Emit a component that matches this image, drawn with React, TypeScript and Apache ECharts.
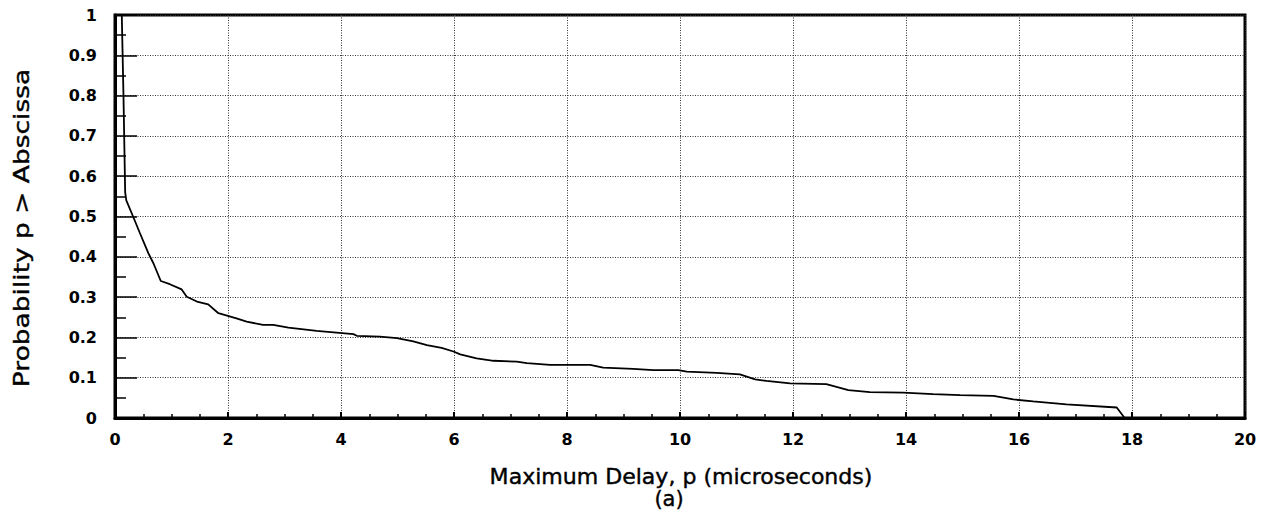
import React, { useEffect, useRef } from "react";
import * as echarts from "echarts";

const delayUs = [0.12, 0.15, 0.18, 0.2, 0.32, 0.44, 0.59, 0.68, 0.81, 0.97, 1.18, 1.27, 1.45, 1.65, 1.83, 2.15, 2.33, 2.62, 2.8, 3.07, 3.57, 4.22, 4.28, 4.69, 4.99, 5.28, 5.52, 5.78, 5.99, 6.11, 6.4, 6.7, 7.11, 7.29, 7.7, 8.41, 8.64, 9.17, 9.53, 9.97, 10.12, 10.65, 11.06, 11.33, 11.53, 11.95, 12.59, 12.98, 13.36, 13.95, 14.48, 14.96, 15.55, 15.9, 16.25, 16.84, 17.73, 17.87];
const probability = [1, 0.8, 0.56, 0.54, 0.5, 0.459, 0.409, 0.384, 0.34, 0.332, 0.319, 0.301, 0.289, 0.282, 0.26, 0.247, 0.239, 0.231, 0.231, 0.224, 0.216, 0.208, 0.204, 0.202, 0.198, 0.19, 0.181, 0.174, 0.165, 0.158, 0.148, 0.142, 0.14, 0.136, 0.132, 0.132, 0.125, 0.122, 0.119, 0.119, 0.115, 0.112, 0.108, 0.096, 0.092, 0.086, 0.084, 0.069, 0.064, 0.063, 0.059, 0.057, 0.055, 0.046, 0.041, 0.034, 0.026, 0];

const xTitle = "Maximum Delay, p (microseconds)";
const subTitle = "(a)";
const yTitle = "Probability p > Abscissa";

export default function App() {
  const ref = useRef<HTMLDivElement>(null);
  useEffect(() => {
    if (!ref.current) return;
    const chart = echarts.init(ref.current, null, { renderer: "svg" });
    const font = "'DejaVu Sans', Verdana, sans-serif";
    const gridLine = { show: true, lineStyle: { color: "#333", width: 1, type: [1, 1.5] as any } };
    const titleStyle = {
      font: "21px 'DejaVu Sans', Verdana, sans-serif",
      fill: "#000",
      align: "center",
      verticalAlign: "middle",
      stroke: "#000",
      lineWidth: 0.4,
    };
    chart.setOption({
      animation: false,
      backgroundColor: "#fff",
      grid: { left: 115, right: 21, top: 15, bottom: 104, show: true, borderColor: "#000", borderWidth: 3, backgroundColor: "transparent" },
      xAxis: {
        type: "value",
        min: 0,
        max: 20,
        interval: 2,
        axisLine: { show: true, onZero: false, lineStyle: { color: "#000", width: 3 } },
        axisTick: { show: true, inside: true, length: 6, lineStyle: { color: "#000", width: 2 } },
        minorTick: { show: true, splitNumber: 4, length: 4, lineStyle: { color: "#000", width: 1.5 } },
        axisLabel: { fontFamily: font, fontSize: 16, fontWeight: "bold", color: "#000", margin: 13 },
        splitLine: gridLine,
      },
      yAxis: {
        type: "value",
        min: 0,
        max: 1,
        interval: 0.1,
        axisLine: { show: true, onZero: false, lineStyle: { color: "#000", width: 3 } },
        axisTick: { show: true, inside: true, length: 22, lineStyle: { color: "#000", width: 1.5 } },
        minorTick: { show: true, splitNumber: 2, length: 11, lineStyle: { color: "#000", width: 1.5 } },
        axisLabel: { fontFamily: font, fontSize: 16, fontWeight: "bold", color: "#000", margin: 18 },
        splitLine: gridLine,
      },
      graphic: [
        { type: "text", x: 681, y: 477, scaleX: 1.05, style: { ...titleStyle, text: xTitle } },
        { type: "text", x: 669, y: 499, style: { ...titleStyle, text: subTitle } },
        { type: "text", x: 22, y: 228, rotation: Math.PI / 2, scaleX: 1.26, style: { ...titleStyle, text: yTitle } },
      ],
      series: [
        {
          type: "line",
          data: delayUs.map((x, i) => [x, probability[i]]),
          showSymbol: false,
          symbol: "none",
          lineStyle: { color: "#000", width: 1.8 },
          z: 5,
        },
      ],
    });
    return () => chart.dispose();
  }, []);
  return <div ref={ref} style={{ position: "fixed", left: 0, top: 0, width: 1266, height: 522, background: "#fff" }} />;
}
